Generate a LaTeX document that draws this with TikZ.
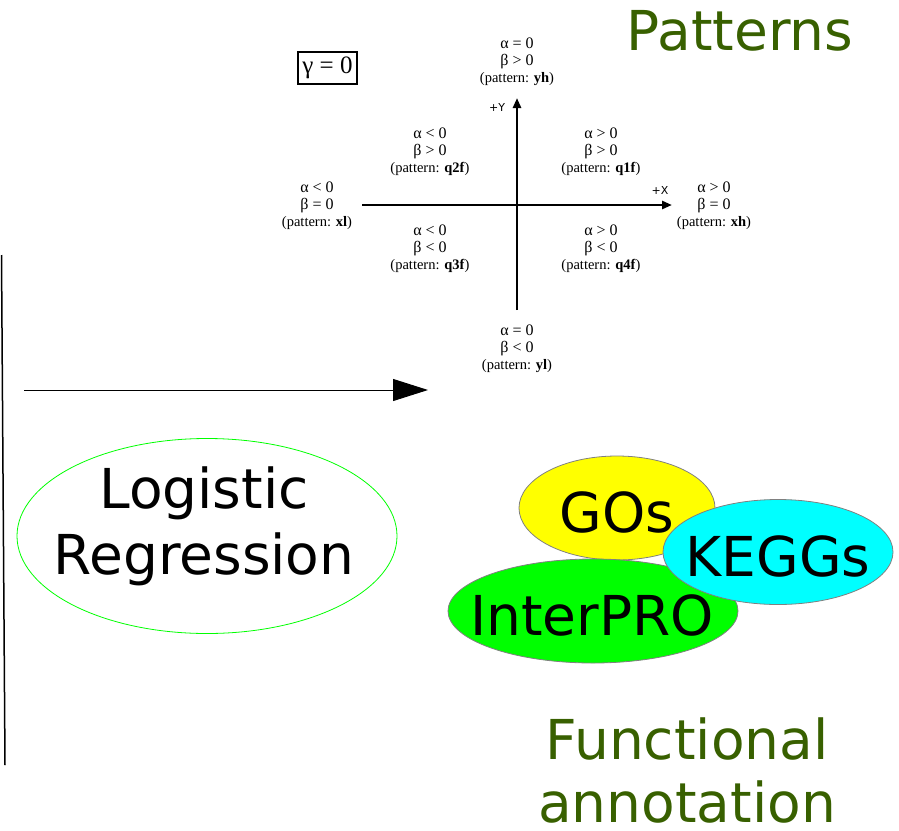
\documentclass[tikz,border=0pt]{standalone}
\usepackage{fontspec}
\setmainfont{DejaVu Sans}
\newfontfamily\tms{Liberation Serif}
\usetikzlibrary{arrows.meta,shapes.geometric}
\definecolor{titlegreen}{RGB}{56,96,0}
\definecolor{pyellow}{RGB}{255,255,0}
\definecolor{pgreen}{RGB}{0,255,0}
\definecolor{pcyan}{RGB}{0,255,255}
\tikzset{
  big/.style={font=\fontsize{55}{66}\selectfont, align=center, inner sep=0pt},
  title/.style={big, text=titlegreen},
  lab/.style={font=\tms\fontsize{16}{17}\selectfont, align=center, inner sep=0pt},
  blob/.style={ellipse, draw=gray, line width=0.8pt, inner sep=0pt},
  axis/.style={line width=2.8pt, -{Triangle[length=10pt,width=8pt]}},
  axlab/.style={font=\fontsize{11}{11}\selectfont, inner sep=0pt},
}
\newcommand{\pat}[1]{{\fontsize{14.5}{17}\selectfont(pattern: \textbf{#1})}}
\begin{document}
\begin{tikzpicture}[x=1pt,y=-1pt]
\useasboundingbox (0,0) rectangle (899,830);
% titles
\node[title] (patterns) at (740,31) {Patterns};
\node[title, font=\fontsize{55}{63}\selectfont] (func) at (687,770) {Functional\\annotation};
% left line and arrow
\coordinate (lt) at (1.5,255);
\coordinate (lb) at (5,765);
\draw[line width=1.5pt] (lt) -- (lb);
\coordinate (as) at (24,390);
\coordinate (ae) at (428,390);
\draw[line width=1pt, -{Triangle[length=35pt,width=22pt]}] (as) -- (ae);
% logistic regression
\node[ellipse, draw=pgreen, line width=0.8pt, minimum width=380pt, minimum height=195pt, inner sep=0pt] (lr) at (207,536) {};
\node[big] (lrt) at (204,526) {Logistic\\Regression};
% blobs
\node[blob, fill=pyellow, minimum width=196pt, minimum height=104pt] (go) at (617,508) {};
\node[blob, fill=pgreen, minimum width=290pt, minimum height=104pt] (ip) at (593,611) {};
\node[blob, fill=pcyan, minimum width=230pt, minimum height=105pt] (kg) at (778,552) {};
\node[big] (got) at (617,512) {GOs};
\node[big] (kgt) at (778,556) {KEGGs};
\node[big] (ipt) at (592,615) {InterPRO};
% axes
\coordinate (yb) at (517,310);
\coordinate (yt) at (517,98);
\coordinate (xl0) at (362,205);
\coordinate (xr) at (672,205);
\draw[axis] (yb) -- (yt);
\draw[axis] (xl0) -- (xr);
\node[axlab] (py) at (497,107) {+Y};
\node[axlab] (px) at (660,190) {+X};
% gamma box
\node[draw, line width=1.8pt, font=\tms\fontsize{25}{25}\selectfont, minimum width=59pt, minimum height=32pt, inner sep=0pt] (gam) at (327.5,68) {γ = 0};
% labels
\node[lab] (yh) at (517,62) {α = 0\\β > 0\\\pat{yh}};
\node[lab] (q2f) at (430,152) {α < 0\\β > 0\\\pat{q2f}};
\node[lab] (q1f) at (601,152) {α > 0\\β > 0\\\pat{q1f}};
\node[lab] (xlab) at (317,206) {α < 0\\β = 0\\\pat{xl}};
\node[lab] (xh) at (714,206) {α > 0\\β = 0\\\pat{xh}};
\node[lab] (q3f) at (430,249) {α < 0\\β < 0\\\pat{q3f}};
\node[lab] (q4f) at (601,249) {α > 0\\β < 0\\\pat{q4f}};
\node[lab] (yl) at (517,349) {α = 0\\β < 0\\\pat{yl}};
\end{tikzpicture}
\end{document}
